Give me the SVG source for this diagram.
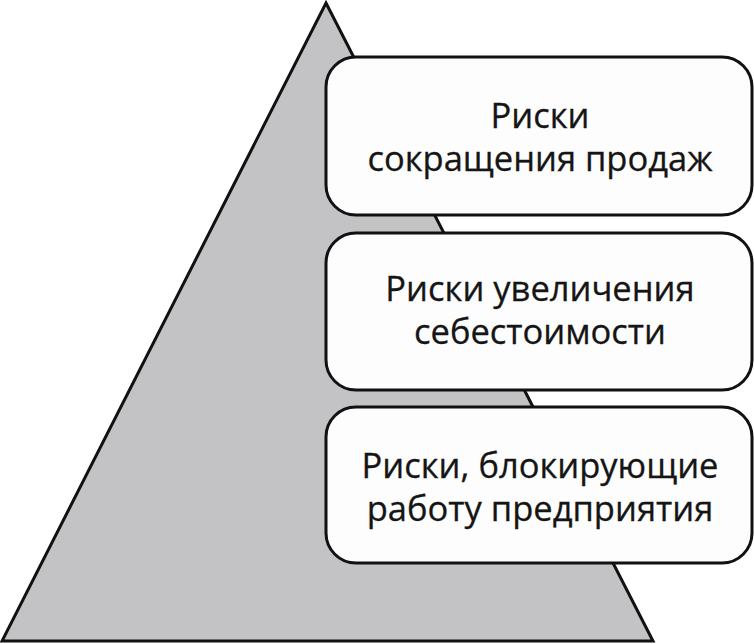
<svg xmlns="http://www.w3.org/2000/svg" width="754" height="644" viewBox="0 0 754 644">
<style>
.tri{fill:#c3c2c4;stroke:#111;stroke-width:3;stroke-linejoin:miter}
.box{fill:#fdfdfd;stroke:#111;stroke-width:3}
.t{font-family:"Open Sans","Noto Sans",sans-serif;font-size:34.5px;fill:#151515;text-anchor:middle;stroke:#151515;stroke-width:0.3}
</style>
<rect width="754" height="644" fill="#ffffff"/>
<g id="pyramid"><polygon class="tri" points="326,3 653,641 2,641"/></g>
<g id="box1">
<rect class="box" x="326" y="57" width="426" height="158" rx="30"/>
<text class="t" x="540" y="128">Риски</text>
<text class="t" x="540" y="171">сокращения продаж</text>
</g>
<g id="box2">
<rect class="box" x="326" y="233" width="426" height="157" rx="30"/>
<text class="t" x="540" y="301">Риски увеличения</text>
<text class="t" x="540" y="344">себестоимости</text>
</g>
<g id="box3">
<rect class="box" x="326" y="407" width="426" height="156" rx="30"/>
<text class="t" x="540" y="478">Риски, блокирующие</text>
<text class="t" x="540" y="521">работу предприятия</text>
</g>
<g id="connectors"/>
</svg>
